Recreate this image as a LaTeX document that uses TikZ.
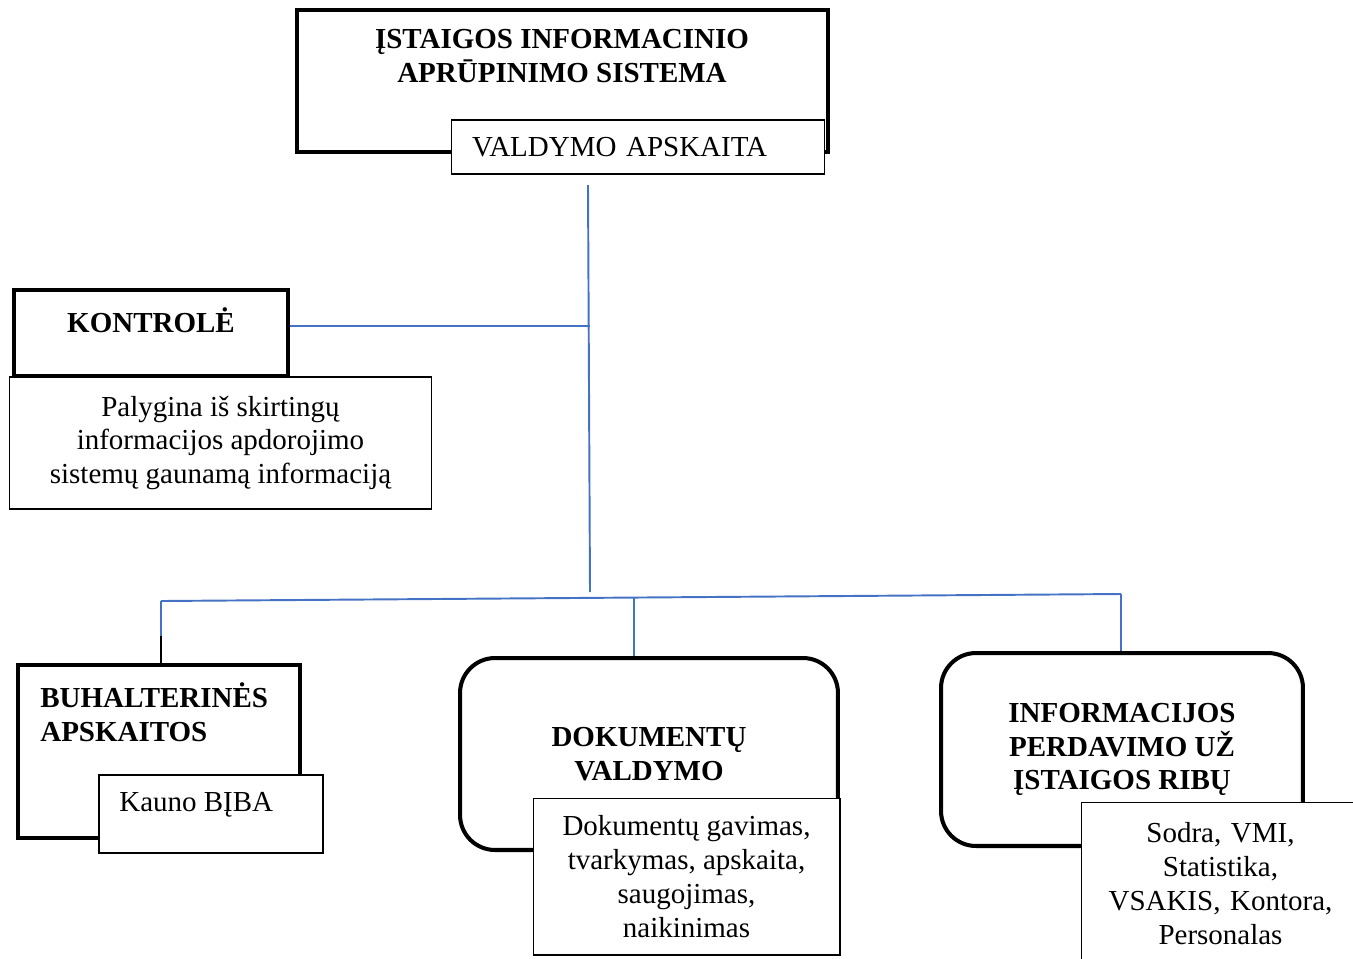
\documentclass[tikz,border=0pt]{standalone}
\usepackage{fontspec}
\setmainfont{Liberation Serif}
\frenchspacing
\definecolor{linkblue}{RGB}{68,114,196}
\begin{document}
\begin{tikzpicture}[x=0.02cm,y=-0.02cm,
  txt/.style={font=\fontsize{16.5}{19.3}\selectfont, align=center, inner sep=0pt},
  hdr/.style={txt, font=\fontsize{16.5}{19.3}\selectfont\bfseries},
  thickbox/.style={draw, line width=2.3pt, fill=white, inner sep=0pt},
  roundbox/.style={thickbox, rounded corners=0.7cm},
  thinbox/.style={draw, line width=0.6pt, fill=white, txt},
  link/.style={draw=linkblue, line width=1.1pt}]
\useasboundingbox (0,0) rectangle (1353,958);
% connectors
\coordinate (top) at (588,185);
\coordinate (hub) at (590,326);
\coordinate (bot) at (590,592);
\coordinate (b1) at (161,601);
\coordinate (b1x) at (161,636);
\coordinate (b2) at (634,598);
\coordinate (b3) at (1121,594);
% boxes
\node[thickbox, minimum width=10.62cm, minimum height=2.84cm] (sys) at (562.5,81) {};
\node[hdr] (systxt) at (562,56) {ĮSTAIGOS INFORMACINIO\\APRŪPINIMO SISTEMA};
\node[thinbox, minimum width=7.48cm, minimum height=1.08cm, text width=6.64cm, align=left] (vald) at (638,147) {VALDYMO APSKAITA};

\node[thickbox, minimum width=5.48cm, minimum height=1.72cm] (kontr) at (151,333) {};
\node[hdr] (kontrtxt) at (151,320) {KONTROLĖ};
\node[thinbox, minimum width=8.46cm, minimum height=2.64cm] (palyg) at (220.5,443) {Palygina iš skirtingų\\informacijos apdorojimo\\sistemų gaunamą informaciją};

\node[thickbox, minimum width=5.64cm, minimum height=3.46cm] (buh) at (159,751.5) {};
\node[hdr, align=left, anchor=west] (buhtxt) at (40,712.5) {BUHALTERINĖS\\APSKAITOS};
\node[thinbox, minimum width=4.48cm, minimum height=1.56cm] (kauno) at (211,814) {};
\node[txt, anchor=west] (kaunotxt) at (119,805) {Kauno BĮBA};

\node[roundbox, hdr, minimum width=7.56cm, minimum height=3.84cm] (dok) at (649,754) {DOKUMENTŲ\\VALDYMO};
\node[thinbox, minimum width=6.14cm, minimum height=3.14cm] (doktxt) at (686.5,876.5) {Dokumentų gavimas,\\tvarkymas, apskaita,\\saugojimas,\\naikinimas};

\node[roundbox, hdr, minimum width=7.24cm, minimum height=3.86cm] (inf) at (1122,749.5) {INFORMACIJOS\\PERDAVIMO UŽ\\ĮSTAIGOS RIBŲ};
\node[thinbox, minimum width=5.58cm, minimum height=3.26cm, text width=5.4cm] (sodra) at (1220.5,883.5) {Sodra, VMI,\\Statistika,\\VSAKIS, Kontora,\\Personalas};

\path[link] (top) -- (bot);
\path[link] (kontr.east |- hub) -- (hub);
\path[link] (b1) -- (b3);
\path[link] (b1) -- (b1x);
\draw[line width=1pt] (b1x) -- (b1x |- buh.north);
\path[link] (b2) -- (b2 |- dok.north);
\path[link] (b3) -- (b3 |- inf.north);
\end{tikzpicture}
\end{document}
